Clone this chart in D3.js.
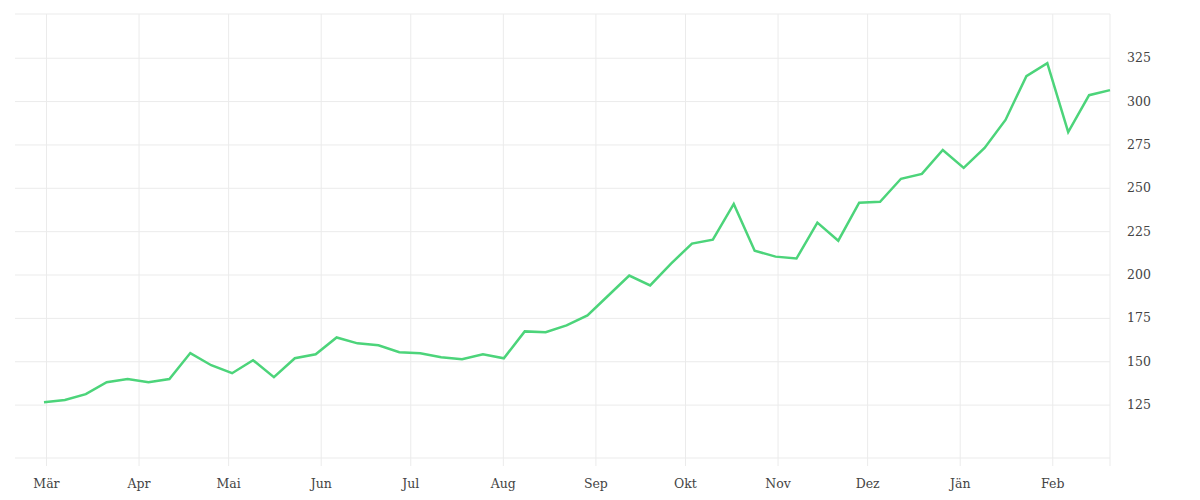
<!DOCTYPE html><html><head><meta charset="utf-8">
<script src="https://cdn.jsdelivr.net/npm/d3@7"></script>
<style>body{margin:0;background:#fff}text{font-family:"DejaVu Serif",serif;font-size:12.5px;fill:#444}</style></head><body>
<svg id="c" width="1200" height="500"></svg>
<script>
const startDate = "2020-03-01";
const values = [126.7,127.9,131.3,138.2,140,138.2,140,155,148,143.4,150.9,141.1,152,154.3,164,160.6,159.5,155.5,154.9,152.6,151.4,154.3,152,167.5,167,171,176.7,188.2,199.7,194,206.6,218.1,220.4,241,214,210.6,209.5,230.2,219.8,241.7,242.2,255.5,258.3,272.1,261.8,273.3,289.4,314.7,322.1,282.4,303.7,306.6];
const monthNames = ["Jän","Feb","Mär","Apr","Mai","Jun","Jul","Aug","Sep","Okt","Nov","Dez"];
const yTicks = [125,150,175,200,225,250,275,300,325];

const s = new Date(startDate+"T00:00:00");
const data = values.map((v,i)=>({d:d3.timeDay.offset(s,7*i),v}));
const last = data[data.length-1].d;
const x = d3.scaleTime().domain([d3.timeHour.offset(s,-233),last]).range([15,1110]);
const y = d3.scaleLinear().domain([94.5,350.5]).range([458,14]);
const svg = d3.select("#c");
const g = svg.append("g");
const months = d3.timeMonth.range(d3.timeMonth.ceil(x.domain()[0]), last);
const mx = d => x(d3.timeHour.offset(d,20));
g.selectAll(".vg").data(months).join("line").attr("x1",mx).attr("x2",mx).attr("y1",14).attr("y2",466).attr("stroke","#ebebeb");
g.append("line").attr("x1",1110).attr("x2",1110).attr("y1",14).attr("y2",466).attr("stroke","#ebebeb");
g.selectAll(".hg").data(yTicks).join("line").attr("x1",15).attr("x2",1110).attr("y1",d=>y(d)).attr("y2",d=>y(d)).attr("stroke","#ebebeb");
[14,458].forEach(yy=>g.append("line").attr("x1",15).attr("x2",1110).attr("y1",yy).attr("y2",yy).attr("stroke","#ebebeb"));
g.selectAll(".xl").data(months).join("text").attr("x",mx).attr("y",488).attr("text-anchor","middle").text(d=>monthNames[d.getMonth()]);
g.selectAll(".yl").data(yTicks).join("text").attr("x",1127).attr("y",d=>y(d)+4).text(d=>d);
g.append("path").datum(data).attr("fill","none").attr("stroke","#4cd47a").attr("stroke-width",2.5)
 .attr("d",d3.line().x(d=>x(d.d)).y(d=>y(d.v)));
</script></body></html>
